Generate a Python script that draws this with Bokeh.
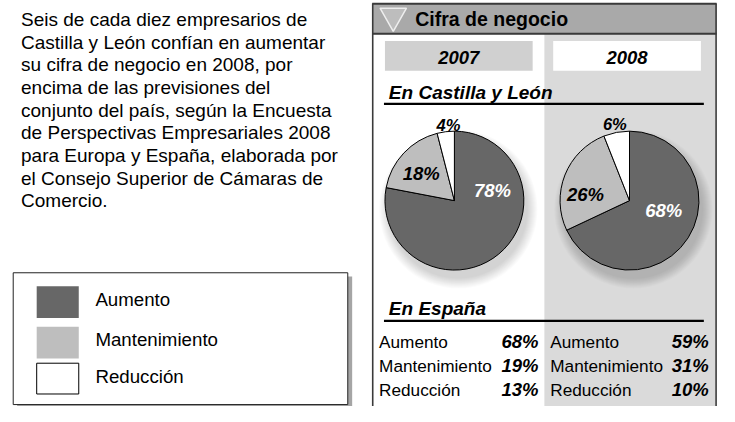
import math
from bokeh.plotting import figure
from bokeh.models import Range1d
from bokeh.core.properties import value
from bokeh.embed import file_html
from bokeh.resources import INLINE

# ---------------- data ----------------
categories = ["Aumento", "Mantenimiento", "Reducción"]
years = ["2007", "2008"]
cyl_2007 = [78, 18, 4]
cyl_2008 = [68, 26, 6]
esp_2007 = [68, 19, 13]
esp_2008 = [59, 31, 10]
slice_colors = ["#676767", "#bebebe", "#ffffff"]
label_colors = ["white", "black", "black"]

title = "Cifra de negocio"
section_cyl = "En Castilla y León"
section_esp = "En España"
intro_lines = [
    "Seis de cada diez empresarios de",
    "Castilla y León confían en aumentar",
    "su cifra de negocio en 2008, por",
    "encima de las previsiones del",
    "conjunto del país, según la Encuesta",
    "de Perspectivas Empresariales 2008",
    "para Europa y España, elaborada por",
    "el Consejo Superior de Cámaras de",
    "Comercio.",
]

FONT = "Liberation Sans"

p = figure(width=719, height=406, x_range=Range1d(0, 735), y_range=Range1d(422, 0),
           toolbar_location=None, output_backend="svg", min_border=0,
           x_axis_type=None, y_axis_type=None)
p.xgrid.visible = False
p.ygrid.visible = False
p.outline_line_color = None
p.background_fill_color = "white"
p.border_fill_color = "white"


def txt(x, y, s, size, style="normal", color="black", align="left"):
    # y is the vertical centre of the capital letters
    p.text(x=[x], y=[y], text=[s], text_font=value(FONT), text_font_size=f"{size}px",
           text_font_style=style, text_color=color, text_align=align, text_baseline="middle")


# ---------------- right panel ----------------
p.quad(left=[380], right=[732], top=[3], bottom=[422], fill_color="white", line_color=None)
p.quad(left=[556], right=[731], top=[35], bottom=[422], fill_color="#dadada", line_color=None)
p.quad(left=[380], right=[732], top=[3], bottom=[35], fill_color="#a9a9a9", line_color=None)
p.segment(x0=[380, 380], y0=[3.5, 34.5], x1=[732, 732], y1=[3.5, 34.5], line_color="#3a3a3a", line_width=2)
p.segment(x0=[380.5, 731.5], y0=[3, 3], x1=[380.5, 731.5], y1=[422, 422], line_color="#3a3a3a", line_width=1.6)
p.patch(x=[388, 415, 401.5], y=[8, 8, 32], fill_color="#bdbdbd", line_color="#eeeeee", line_width=1.5)
txt(424, 19, title, 19.5, "bold")

# year boxes
p.quad(left=[393], right=[544], top=[42], bottom=[73], fill_color="#d0d0d0", line_color=None)
p.quad(left=[565], right=[716], top=[42], bottom=[73], fill_color="white", line_color=None)
year_x = [468.5, 640.5]
for yx, yr in zip(year_x, years):
    txt(yx, 59.5, yr, 18.5, "bold italic", align="center")

# section titles
txt(397, 95.5, section_cyl, 19, "bold italic")
p.segment(x0=[392], y0=[107.5], x1=[719], y1=[107.5], line_color="black", line_width=2.2)
txt(397, 320.5, section_esp, 19, "bold italic")
p.segment(x0=[392], y0=[333], x1=[719], y1=[333], line_color="black", line_width=2.2)

# ---------------- pies ----------------
pie_centers = [(464, 208), (643, 208)]
pie_radius = 71
label_offsets = [
    [(39, -10), (-34, -28), (-6, -79)],
    [(35, 10), (-45, -6), (-15, -80)],
]
label_sizes = [18.5, 18.5, 16.5]

for (cx, cy), vals, offs in zip(pie_centers, [cyl_2007, cyl_2008], label_offsets):
    # soft shadow
    radii = [pie_radius + k for k in range(10, -1, -1)]
    p.circle(x=[cx + 4] * len(radii), y=[cy + 9] * len(radii), radius=radii,
             fill_color="#000000", fill_alpha=0.014, line_color=None)
    total = sum(vals)
    cum = 0
    for v, col in zip(vals, slice_colors):
        a0 = math.pi / 2 - 2 * math.pi * cum / total
        cum += v
        a1 = math.pi / 2 - 2 * math.pi * cum / total
        p.wedge(x=[cx], y=[cy], radius=pie_radius, start_angle=a0, end_angle=a1,
                direction="clock", fill_color=col, line_color="black", line_width=1)
    for v, (dx, dy), lc, fs in zip(vals, offs, label_colors, label_sizes):
        txt(cx + dx, cy + dy, f"{v}%", fs, "bold italic", color=lc, align="center")

# ---------------- Spain table ----------------
row_y = [354.5, 379.5, 404.5]
col_label_x = [387, 562]
col_value_x = [550, 724]
for lx, vx, vals in zip(col_label_x, col_value_x, [esp_2007, esp_2008]):
    for ry, cat, v in zip(row_y, categories, vals):
        txt(lx, ry, cat, 17.2)
        txt(vx, ry, f"{v}%", 18.5, "bold italic", align="right")

# ---------------- intro text ----------------
for i, line in enumerate(intro_lines):
    txt(21, 20 + 23.5 * i, line, 19)

# ---------------- legend ----------------
p.quad(left=[17], right=[359.5], top=[287], bottom=[423.5], fill_color="#a5a5a5", line_color=None)
p.quad(left=[13], right=[355], top=[283], bottom=[420], fill_color="white", line_color="#222222", line_width=1)
sw_top = [297, 339, 377]
sw_bot = [330, 372, 409]
sw_line = [None, None, "black"]
leg_y = [311, 352.5, 391]
for t, b, col, lc, ly, cat in zip(sw_top, sw_bot, slice_colors, sw_line, leg_y, categories):
    p.quad(left=[37], right=[80], top=[t], bottom=[b], fill_color=col, line_color=lc, line_width=1)
    txt(97, ly, cat, 18.7)

open("out.html", "w").write(file_html(p, INLINE))
